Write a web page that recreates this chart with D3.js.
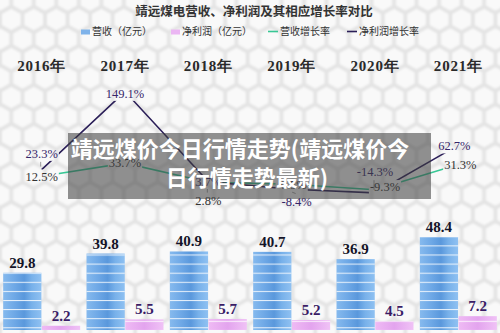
<!DOCTYPE html>
<html>
<head>
<meta charset="utf-8">
<script src="https://cdn.jsdelivr.net/npm/d3@7/dist/d3.min.js"></script>
<style>
  body { margin: 0; background: #fff; }
  svg { display: block; }
</style>
</head>
<body>
<svg width="500" height="333"></svg>
<script>
// data
var years = ["2016年", "2017年", "2018年", "2019年", "2020年", "2021年"];
var revenue = [29.8, 39.8, 40.9, 40.7, 36.9, 48.4];
var profit = [2.2, 5.5, 5.7, 5.2, 4.5, 7.2];
var revenueGrowth = [12.5, 33.7, 2.8, -0.5, -9.3, 31.3];
var profitGrowth = [23.3, 149.1, 3.7, -8.4, -14.3, 62.7];
var legendNames = ["营收（亿元）", "净利润（亿元）", "营收增长率", "净利润增长率"];

// label nudges (layout only)
var revShift = [[0, 0], [0, 0], [0, 18], [0, 0], [10, -3], [2, 0]];
var profShift = [[0, -16], [0, 2], [0, 0], [5, 12], [0, -21], [-4, 1]];

var svg = d3.select("svg");
var W = 500, H = 333;
var defs = svg.append("defs");

// honeycomb background
var r = 13, hw = Math.sqrt(3) * r;
var hex = defs.append("pattern").attr("id", "hex")
    .attr("patternUnits", "userSpaceOnUse")
    .attr("width", hw).attr("height", 3 * r);
defs.append("filter").attr("id", "soft")
    .append("feGaussianBlur").attr("stdDeviation", 1.3);
hex.append("rect").attr("width", hw).attr("height", 3 * r).attr("fill", "#e4e4e4");
var hg = hex.append("g").attr("filter", "url(#soft)");
function hexPath(cx, cy, rr) {
    var p = [];
    for (var i = 0; i < 6; i++) {
        var a = Math.PI / 3 * i - Math.PI / 2;
        p.push([cx + rr * Math.cos(a), cy + rr * Math.sin(a)]);
    }
    return "M" + p.join("L") + "Z";
}
[[0, 0], [hw, 0], [hw / 2, 1.5 * r], [0, 3 * r], [hw, 3 * r]].forEach(function (c) {
    hg.append("path").attr("d", hexPath(c[0], c[1], r - 2.2)).attr("fill", "#f9f9f9");
});

svg.append("rect").attr("width", W).attr("height", H).attr("fill", "url(#hex)");

// bar fills
var blue = defs.append("linearGradient").attr("id", "blue");
[[0, "#86baee"], [0.3, "#6ea8e6"], [0.55, "#5a98dc"], [0.75, "#78b1ea"], [1, "#8fc1f2"]].forEach(function (s) {
    blue.append("stop").attr("offset", s[0]).attr("stop-color", s[1]);
});
var pink = defs.append("linearGradient").attr("id", "pink");
[[0, "#efbaf4"], [0.5, "#e3a4ee"], [1, "#f0c2f6"]].forEach(function (s) {
    pink.append("stop").attr("offset", s[0]).attr("stop-color", s[1]);
});
function stripes(id, y0) {
    var p = defs.append("pattern").attr("id", id)
        .attr("patternUnits", "userSpaceOnUse")
        .attr("x", 0).attr("y", y0).attr("width", 500).attr("height", 9.1);
    p.append("rect").attr("width", 500).attr("height", 1).attr("fill", "rgba(255,255,255,0.85)");
}
stripes("stripeB", 300);
stripes("stripeP", 320.8);

// scales
var x = d3.scaleBand().domain(years).range([0, W]).paddingInner(0.076).paddingOuter(0.038);
var xs = d3.scaleBand().domain(["rev", "prof"]).range([0, x.bandwidth()]).paddingInner(0.013);
var y = d3.scaleLinear().domain([0, 50]).range([330, 234]);
var yp = d3.scaleLinear().domain([-20, 160]).range([196.4, 84.8]);
function cx(d) { return x(d) + x.bandwidth() / 2; }

// growth lines
var line = d3.line().x(function (d, i) { return cx(years[i]); }).y(function (d) { return yp(d); });
svg.append("path").datum(revenueGrowth).attr("d", line)
    .attr("fill", "none").attr("stroke", "#38c795").attr("stroke-width", 1.6);
svg.append("path").datum(profitGrowth).attr("d", line)
    .attr("fill", "none").attr("stroke", "#2b1f58").attr("stroke-width", 1.6);

// growth labels with masking box + leader
function growthLabels(vals, shift, color) {
    vals.forEach(function (v, i) {
        var px = cx(years[i]), py = yp(v);
        var lx = px + shift[i][0], ly = py + shift[i][1];
        var g = svg.append("g");
        var t = g.append("text").attr("x", lx).attr("y", ly + 4.3)
            .attr("text-anchor", "middle")
            .style("font-family", "'Liberation Serif', serif").style("font-size", "12.5px")
            .attr("fill", color).text(v.toFixed(1) + "%");
        var b = t.node().getBBox();
        g.insert("rect", "text").attr("x", b.x - 1).attr("y", b.y)
            .attr("width", b.width + 2).attr("height", b.height).attr("fill", "url(#hex)");
        if (Math.abs(shift[i][1]) > 8) {
            var dir = shift[i][1] > 0 ? -1 : 1;
            var y1 = dir > 0 ? b.y + b.height + 1 : b.y - 1;
            svg.append("line").attr("x1", lx - 1).attr("y1", y1)
                .attr("x2", px + (lx - px) * 0.3 - 1).attr("y2", py - dir * 3)
                .attr("stroke", "#777").attr("stroke-width", 0.7);
        }
    });
}
growthLabels(revenueGrowth, revShift, "#333");
growthLabels(profitGrowth, profShift, "#35266a");

// bars
var groups = svg.selectAll(".grp").data(years).enter().append("g")
    .attr("transform", function (d) { return "translate(" + x(d) + ",0)"; });
function bars(vals, key, fill, stripe, color) {
    groups.each(function (d, i) {
        var g = d3.select(this);
        var bx = xs(key), top = y(vals[i]), h = y(0) - top;
        g.append("rect").attr("x", bx).attr("y", top).attr("width", xs.bandwidth())
            .attr("height", h).attr("fill", fill);
        g.append("rect").attr("x", bx).attr("y", top).attr("width", xs.bandwidth())
            .attr("height", h).attr("fill", stripe);
        g.append("text").attr("x", bx + xs.bandwidth() / 2).attr("y", top - 5)
            .attr("text-anchor", "middle")
            .style("font-family", "'Liberation Serif', serif").style("font-weight", "bold")
            .style("font-size", "15px").attr("fill", color).text(vals[i].toFixed(1));
    });
}
bars(revenue, "rev", "url(#blue)", "url(#stripeB)", "#141428");
bars(profit, "prof", "url(#pink)", "url(#stripeP)", "#3a1c66");

// year labels
svg.selectAll(".yr").data(years).enter().append("text")
    .attr("x", function (d) { return cx(d); }).attr("y", 71)
    .attr("text-anchor", "middle")
    .style("font-family", "'Liberation Serif', serif").style("font-weight", "bold")
    .style("font-size", "15px").style("letter-spacing", "0.8px")
    .attr("fill", "#2a2a2a").text(function (d) { return d; });

// title
svg.append("text").attr("x", 254).attr("y", 15.5).attr("text-anchor", "middle")
    .style("font-family", "'Noto Sans CJK SC', sans-serif").style("font-weight", "bold")
    .style("font-size", "12.5px").attr("fill", "#333")
    .text("靖远煤电营收、净利润及其相应增长率对比");

// legend
var lg = svg.append("g").style("font-family", "'Noto Sans CJK SC', sans-serif")
    .style("font-size", "10px").attr("fill", "#333");
var legendX = [81, 171, 268, 347];
legendNames.forEach(function (n, i) {
    var lx = legendX[i];
    if (i < 2) {
        lg.append("rect").attr("x", lx).attr("y", 29.5).attr("width", 9).attr("height", 5)
            .attr("fill", i === 0 ? "#7fb3ea" : "#ebb6f3");
    } else {
        lg.append("line").attr("x1", lx).attr("x2", lx + 10).attr("y1", 31.5).attr("y2", 31.5)
            .attr("stroke", i === 2 ? "#38c795" : "#2b1f58").attr("stroke-width", 1.6);
    }
    lg.append("text").attr("x", lx + (i < 2 ? 11 : 12)).attr("y", 35.3).text(n);
});

// watermark overlay
svg.append("rect").attr("x", 68).attr("y", 133).attr("width", 363).attr("height", 66)
    .attr("fill", "rgba(60,60,60,0.56)");
var ov = svg.append("g").attr("text-anchor", "middle")
    .style("font-family", "'Noto Sans CJK SC', sans-serif").style("font-weight", "bold")
    .style("font-size", "22px").attr("fill", "#fff");
ov.append("text").attr("x", 240).attr("y", 156.5).text("靖远煤价今日行情走势(靖远煤价今");
ov.append("text").attr("x", 247).attr("y", 185.5).text("日行情走势最新)");
</script>
</body>
</html>
